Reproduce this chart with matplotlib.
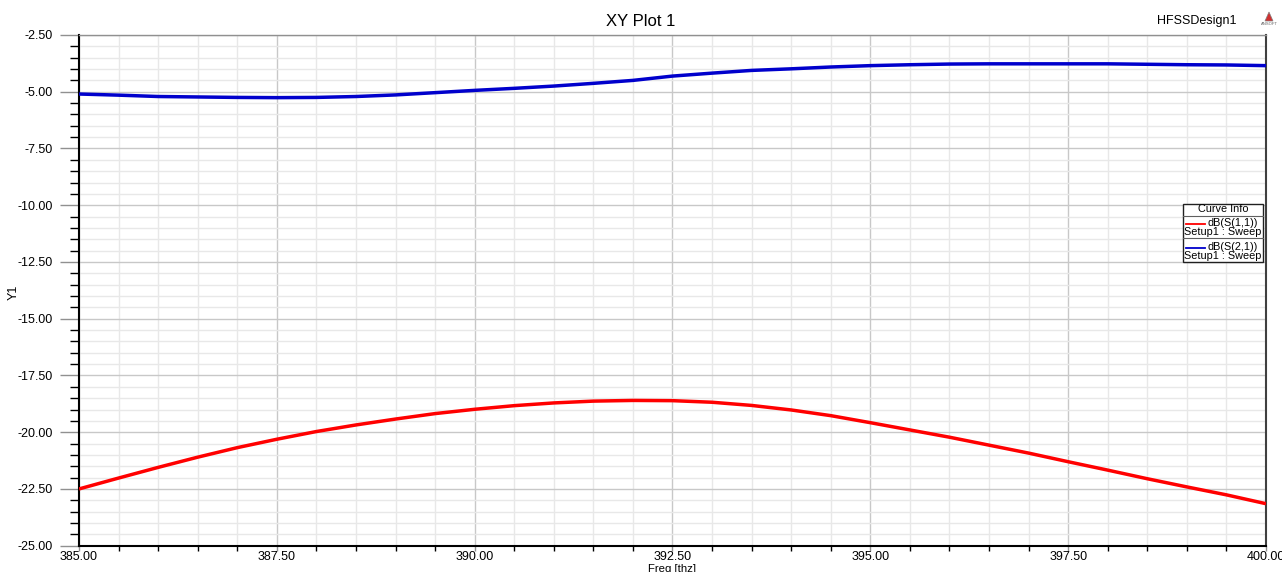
import matplotlib
matplotlib.use("Agg")
import matplotlib.pyplot as plt
from matplotlib.patches import Rectangle, Polygon
from matplotlib.lines import Line2D
from matplotlib.ticker import MultipleLocator, FormatStrFormatter

plt.rcParams['font.family'] = ['Liberation Sans', 'DejaVu Sans']

freq = [385.0, 385.5, 386.0, 386.5, 387.0, 387.5, 388.0, 388.5, 389.0, 389.5,
        390.0, 390.5, 391.0, 391.5, 392.0, 392.5, 393.0, 393.5, 394.0, 394.5,
        395.0, 395.5, 396.0, 396.5, 397.0, 397.5, 398.0, 398.5, 399.0, 399.5, 400.0]
s11_db = [-22.50, -22.02, -21.55, -21.10, -20.68, -20.31, -19.97, -19.68, -19.42, -19.18,
          -18.99, -18.83, -18.71, -18.63, -18.60, -18.61, -18.68, -18.82, -19.02, -19.27,
          -19.58, -19.90, -20.22, -20.57, -20.92, -21.30, -21.67, -22.05, -22.41, -22.76, -23.15]
s21_db = [-5.10, -5.15, -5.21, -5.23, -5.25, -5.26, -5.25, -5.21, -5.14, -5.04,
          -4.94, -4.85, -4.75, -4.63, -4.50, -4.31, -4.18, -4.06, -3.99, -3.91,
          -3.85, -3.81, -3.78, -3.77, -3.77, -3.77, -3.77, -3.79, -3.81, -3.82, -3.85]
curve_names = ["dB(S(1,1))", "dB(S(2,1))"]
setup_label = "Setup1 : Sweep"
title = "XY Plot 1"
design = "HFSSDesign1"

W, H = 1282, 572
fig = plt.figure(figsize=(W / 100, H / 100), dpi=100)
L, R, T, B = 79, 1266, 35, 545.7
ax = fig.add_axes([L / W, 1 - B / H, (R - L) / W, (B - T) / H])

ax.plot(freq, s11_db, color='#ff0000', lw=2.5, solid_capstyle='butt', zorder=3)
ax.plot(freq, s21_db, color='#0000cc', lw=2.5, solid_capstyle='butt', zorder=3)

ax.set_xlim(385, 400)
ax.set_ylim(-25, -2.5)
ax.xaxis.set_major_locator(MultipleLocator(2.5))
ax.xaxis.set_minor_locator(MultipleLocator(0.5))
ax.yaxis.set_major_locator(MultipleLocator(2.5))
ax.yaxis.set_minor_locator(MultipleLocator(0.5))
ax.xaxis.set_major_formatter(FormatStrFormatter('%.2f'))
ax.yaxis.set_major_formatter(FormatStrFormatter('%.2f'))

ax.grid(which='major', color='#c8c8c8', lw=1.0, zorder=0)
ax.grid(which='minor', color='#e8e8e8', lw=1.0, zorder=0)
ax.set_axisbelow(True)

ax.tick_params(axis='y', which='major', direction='out', length=14, width=1.0,
               color='#909090', labelsize=9, pad=5)
ax.tick_params(axis='y', which='minor', direction='out', length=6.5, width=1.0, color='black')
ax.tick_params(axis='x', which='major', direction='out', length=3.5, width=1.0,
               color='#909090', labelsize=9, pad=0)
ax.tick_params(axis='x', which='minor', direction='out', length=3.5, width=1.0, color='black')

for s in ['left', 'bottom']:
    ax.spines[s].set_color('black')
    ax.spines[s].set_linewidth(1.5)
ax.spines['top'].set_color('#909090')
ax.spines['top'].set_linewidth(1.0)
ax.spines['right'].set_color('#404040')
ax.spines['right'].set_linewidth(1.5)


def fx(px):
    return px / W


def fy(py):
    return 1 - py / H


fig.text(fx(14), fy(292), 'Y1', fontsize=9, rotation=90, ha='center', va='center')
fig.text(fx((L + R) / 2), fy(568.5), 'Freq [thz]', fontsize=8.2, ha='center', va='center')
fig.text(fx(641), fy(21), title, fontsize=12, ha='center', va='center')
fig.text(fx(1237), fy(21), design, fontsize=9, ha='right', va='center')
# Ansoft logo
fig.patches.append(Polygon([[fx(1265), fy(21)], [fx(1273), fy(21)], [fx(1269), fy(12)]],
                           closed=True, transform=fig.transFigure, facecolor='#d03030',
                           edgecolor='#808080', lw=0.5))
fig.text(fx(1269), fy(24), 'ANSOFT', fontsize=3, ha='center', va='center', color='#606060')

# Curve info box
bx0, bx1, by0, by1 = 1183, 1263, 204, 262
fig.patches.append(Rectangle((fx(bx0), fy(by1)), fx(bx1) - fx(bx0), fy(by0) - fy(by1),
                             transform=fig.transFigure, facecolor='white',
                             edgecolor='#202020', lw=1.0, zorder=5))
fig.text(fx((bx0 + bx1) / 2), fy(209.5), 'Curve Info', fontsize=7.8, ha='center', va='center', zorder=6)
for ysep in [215.5, 237.5]:
    fig.lines.append(Line2D([fx(bx0), fx(bx1)], [fy(ysep), fy(ysep)], transform=fig.transFigure,
                            color='#606060', lw=0.8, zorder=6))
colors = ['#ff0000', '#0000cc']
for i, (name, c) in enumerate(zip(curve_names, colors)):
    y0 = 222.5 + i * 24
    fig.lines.append(Line2D([fx(1186), fx(1205)], [fy(y0 + 1), fy(y0 + 1)], transform=fig.transFigure,
                            color=c, lw=1.3, zorder=6))
    fig.text(fx(1208), fy(y0), name, fontsize=7.8, ha='left', va='center', zorder=6)
    fig.text(fx(1184.5), fy(y0 + 9.5), setup_label, fontsize=7.8, ha='left', va='center', zorder=6)

fig.savefig('out.png', dpi=100)
